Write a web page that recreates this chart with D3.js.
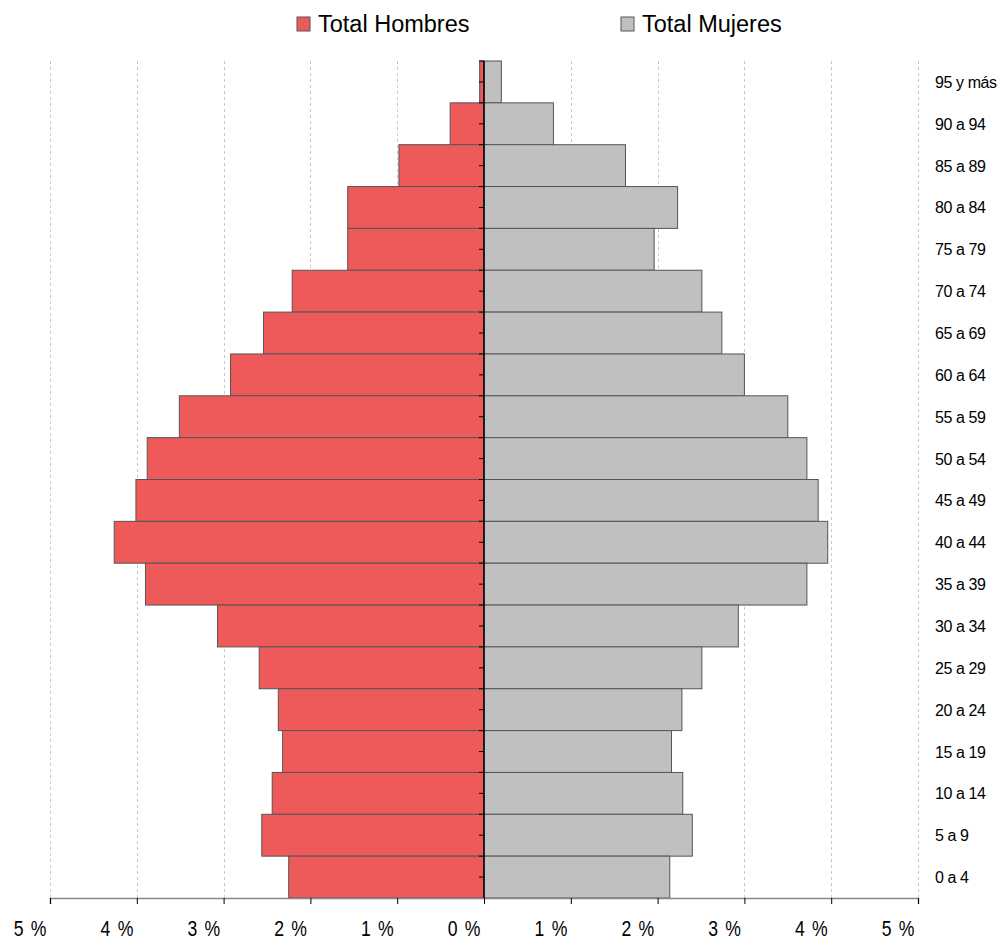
<!DOCTYPE html>
<html>
<head>
<meta charset="utf-8">
<script src="https://cdn.jsdelivr.net/npm/d3@7"></script>
<style>
  body { margin: 0; background: #fff; }
  text { font-family: "Liberation Sans", Arial, sans-serif; fill: #000; }
</style>
</head>
<body>
<div id="drawingfield"></div>
<script>
// age groups, top to bottom
var ageGroups = ["95 y más", "90 a 94", "85 a 89", "80 a 84", "75 a 79", "70 a 74", "65 a 69",
  "60 a 64", "55 a 59", "50 a 54", "45 a 49", "40 a 44", "35 a 39", "30 a 34", "25 a 29",
  "20 a 24", "15 a 19", "10 a 14", "5 a 9", "0 a 4"];

// percent of total population
var hombres = [0.05, 0.39, 0.98, 1.57, 1.57, 2.21, 2.54, 2.92, 3.51, 3.88, 4.01, 4.26,
  3.90, 3.07, 2.59, 2.37, 2.32, 2.44, 2.56, 2.25];
var mujeres = [0.20, 0.80, 1.63, 2.23, 1.96, 2.51, 2.74, 3.00, 3.50, 3.72, 3.85, 3.96,
  3.72, 2.93, 2.51, 2.28, 2.16, 2.29, 2.40, 2.14];

var tickValues = [-5, -4, -3, -2, -1, 0, 1, 2, 3, 4, 5];
var tickLabels = ["5 %", "4 %", "3 %", "2 %", "1 %", "0 %", "1 %", "2 %", "3 %", "4 %", "5 %"];

var width = 1004, height = 941;
var plotLeft = 50, plotRight = 918, plotTop = 61, plotBottom = 898;

var svg = d3.select("#drawingfield").append("svg")
  .attr("width", width)
  .attr("height", height);

var x = d3.scaleLinear().domain([-5, 5]).range([plotLeft, plotRight]);
var y = d3.scaleBand().domain(ageGroups).range([plotTop, plotBottom]).padding(0);

// dashed grid
svg.append("g").selectAll("line")
  .data(tickValues.filter(function(d){ return d !== 0; }))
  .enter().append("line")
  .attr("x1", function(d){ return Math.round(x(d)) + 0.5; })
  .attr("x2", function(d){ return Math.round(x(d)) + 0.5; })
  .attr("y1", plotTop)
  .attr("y2", plotBottom)
  .attr("stroke", "#c8c8c8")
  .attr("stroke-dasharray", "3,3");

// bars
var bars = svg.append("g");
bars.selectAll(".h").data(hombres).enter().append("rect")
  .attr("class", "h")
  .attr("x", function(d){ return x(-d); })
  .attr("y", function(d, i){ return y(ageGroups[i]); })
  .attr("width", function(d){ return x(0) - x(-d); })
  .attr("height", y.bandwidth())
  .attr("fill", "#ee5a5a")
  .attr("stroke", "#555")
  .attr("stroke-width", 1);

bars.selectAll(".m").data(mujeres).enter().append("rect")
  .attr("class", "m")
  .attr("x", x(0))
  .attr("y", function(d, i){ return y(ageGroups[i]); })
  .attr("width", function(d){ return x(d) - x(0); })
  .attr("height", y.bandwidth())
  .attr("fill", "#c0c0c0")
  .attr("stroke", "#555")
  .attr("stroke-width", 1);

// central vertical axis with ticks
var cx = x(0);
svg.append("line")
  .attr("x1", cx).attr("x2", cx)
  .attr("y1", plotTop).attr("y2", plotBottom)
  .attr("stroke", "#000").attr("stroke-width", 1.5);

var tickYs = [];
ageGroups.forEach(function(g){
  tickYs.push(y(g));
  tickYs.push(y(g) + y.bandwidth() / 2);
});
svg.append("g").selectAll("line").data(tickYs).enter().append("line")
  .attr("x1", cx - 5).attr("x2", cx)
  .attr("y1", function(d){ return d; })
  .attr("y2", function(d){ return d; })
  .attr("stroke", "#000");

// bottom axis
var xAxis = d3.axisBottom(x)
  .tickValues(tickValues)
  .tickSize(6)
  .tickFormat(function(d, i){ return tickLabels[i]; });

var gx = svg.append("g")
  .attr("transform", "translate(0," + plotBottom + ")")
  .call(xAxis);
gx.select(".domain").attr("stroke", "#888").attr("stroke-width", 1.5);
gx.selectAll(".tick line").attr("stroke", "#000");
gx.selectAll(".tick text")
  .attr("x", 0)
  .attr("y", 0)
  .attr("dy", 0)
  .attr("text-anchor", "end")
  .attr("transform", "translate(-4,38) scale(0.8,1)")
  .attr("font-size", 22)
  .attr("font-family", "Liberation Sans, Arial, sans-serif")
  .attr("word-spacing", "3")
  .attr("fill", "#000");

// age labels on the right
svg.append("g").selectAll("text").data(ageGroups).enter().append("text")
  .attr("x", 935)
  .attr("y", function(d){ return y(d) + y.bandwidth() / 2 + 6; })
  .attr("font-size", 16)
  .attr("letter-spacing", "-0.4")
  .text(function(d){ return d; });

// legend
var legend = [
  {name: "Total Hombres", color: "#ee5a5a", x: 297},
  {name: "Total Mujeres", color: "#c0c0c0", x: 621}
];
var lg = svg.append("g").selectAll("g").data(legend).enter().append("g");
lg.append("rect")
  .attr("x", function(d){ return d.x; })
  .attr("y", 17)
  .attr("width", 13).attr("height", 14)
  .attr("fill", function(d){ return d.color; })
  .attr("stroke", "#555");
lg.append("text")
  .attr("x", function(d){ return d.x + 21; })
  .attr("y", 32)
  .attr("font-size", 23.5)
  .text(function(d){ return d.name; });
</script>
</body>
</html>
